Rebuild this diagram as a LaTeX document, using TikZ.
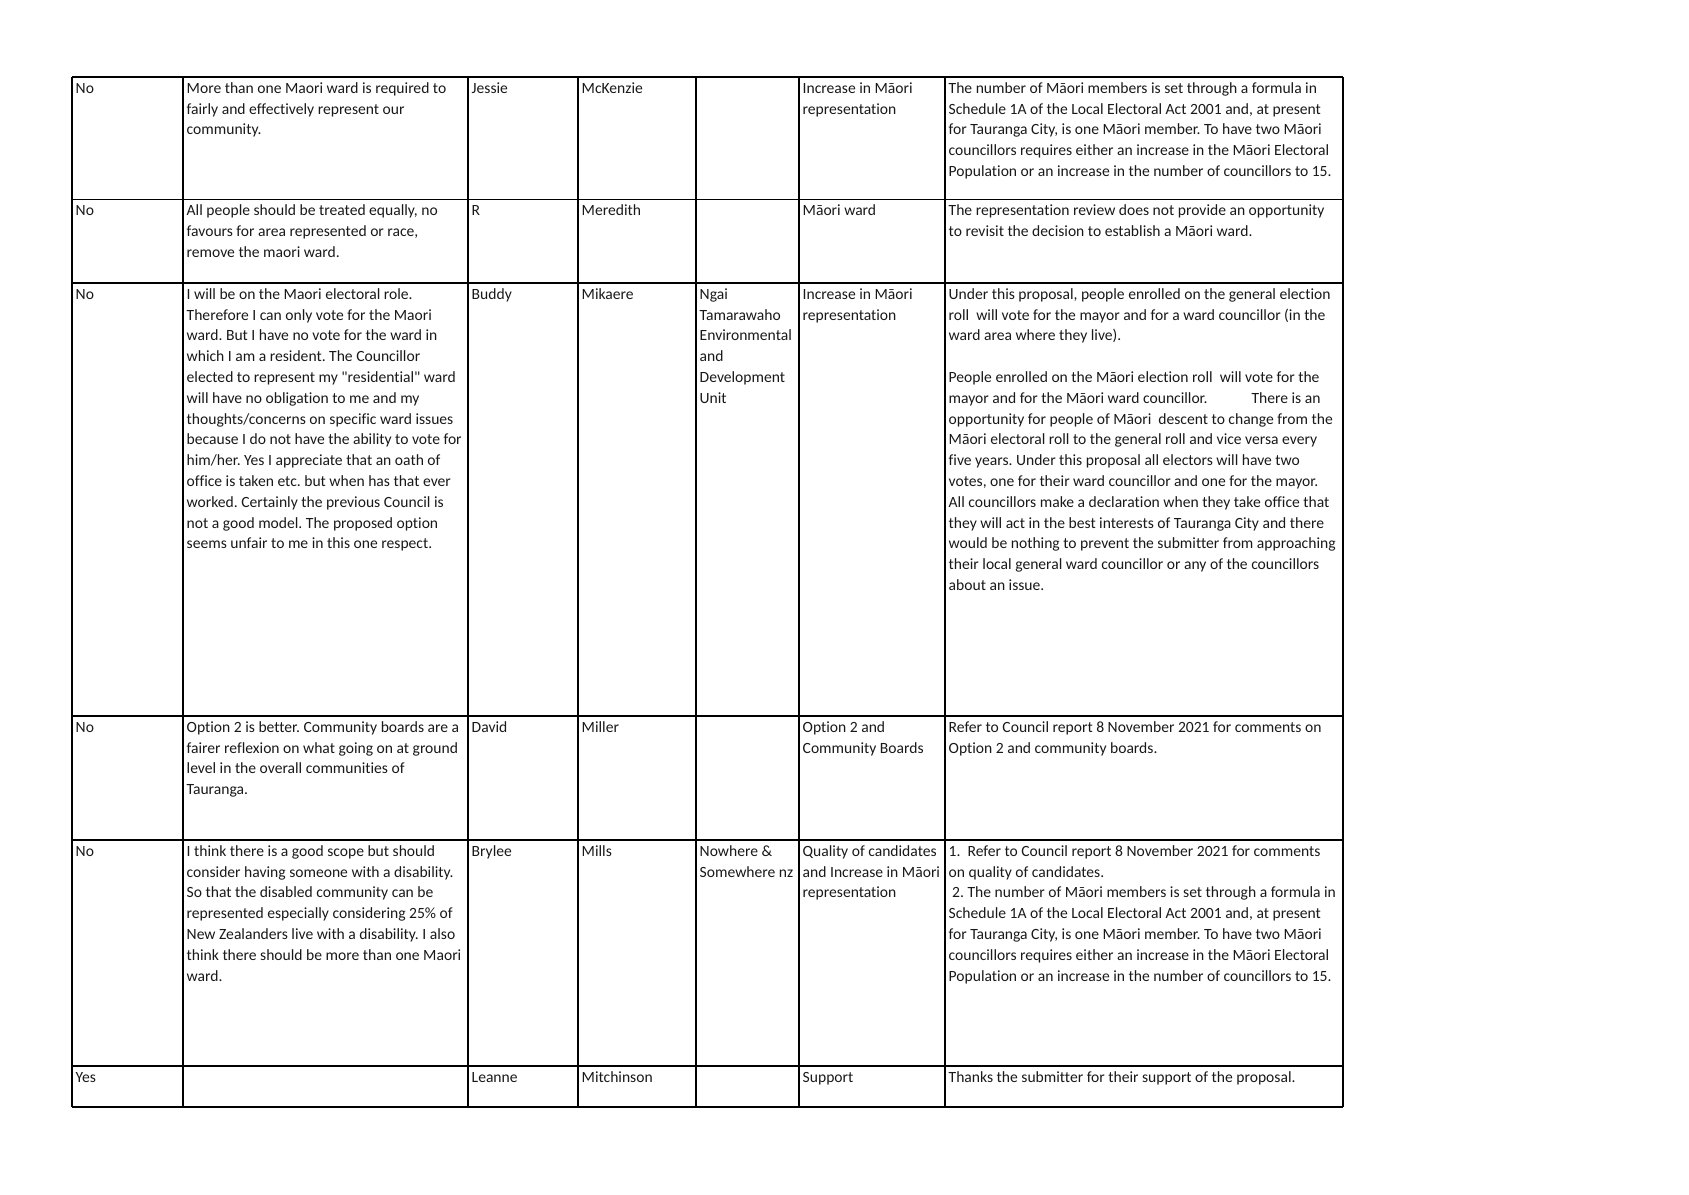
\documentclass[tikz,border=0pt]{standalone}
\usepackage{fontspec}
\newfontfamily\cf[Ligatures=NoCommon]{Carlito}
\newcommand\cs{\rule{0pt}{14pt}}
\frenchspacing
\begin{document}
\begin{tikzpicture}[x=1pt,y=-1pt,
  grid/.style={line width=1.6pt, draw=black},
  cell/.style={anchor=north west, inner sep=0pt, align=left,
    font=\cf\fontsize{15.6}{20.8}\selectfont\frenchspacing, text=black!90}]
\useasboundingbox[fill=white] (0,0) rectangle (1689,1194);
% grid
\foreach \xx in {72,183,468,578,696,799,945,1343}
  \draw[grid] (\xx,77) -- (\xx,1107);
\foreach \yy in {77,199.5,283,716,840,1066,1107}
  \draw[grid] (72,\yy) -- (1343,\yy);
% row 1
\node[cell] (r1c1) at (75.5,79) {\cs No};
\node[cell] (r1c2) at (186.5,79) {\cs More than one Maori ward is required to\\fairly and effectively represent our\\community.};
\node[cell] (r1c3) at (471.5,79) {\cs Jessie};
\node[cell] (r1c4) at (581.5,79) {\cs McKenzie};
\node[cell] (r1c6) at (802.5,79) {\cs Increase in Māori\\representation};
\node[cell] (r1c7) at (948.5,79) {\cs The number of Māori members is set through a formula in\\Schedule 1A of the Local Electoral Act 2001 and, at present\\for Tauranga City, is one Māori member. To have two Māori\\councillors requires either an increase in the Māori Electoral\\Population or an increase in the number of councillors to 15.};
% row 2
\node[cell] (r2c1) at (75.5,201.5) {\cs No};
\node[cell] (r2c2) at (186.5,201.5) {\cs All people should be treated equally, no\\favours for area represented or race,\\remove the maori ward.};
\node[cell] (r2c3) at (471.5,201.5) {\cs R};
\node[cell] (r2c4) at (581.5,201.5) {\cs Meredith};
\node[cell] (r2c6) at (802.5,201.5) {\cs Māori ward};
\node[cell] (r2c7) at (948.5,201.5) {\cs The representation review does not provide an opportunity\\to revisit the decision to establish a Māori ward.};
% row 3
\node[cell] (r3c1) at (75.5,285) {\cs No};
\node[cell] (r3c2) at (186.5,285) {\cs I will be on the Maori electoral role.\\Therefore I can only vote for the Maori\\ward. But I have no vote for the ward in\\which I am a resident. The Councillor\\elected to represent my "residential" ward\\will have no obligation to me and my\\thoughts/concerns on specific ward issues\\because I do not have the ability to vote for\\him/her. Yes I appreciate that an oath of\\office is taken etc. but when has that ever\\worked. Certainly the previous Council is\\not a good model. The proposed option\\seems unfair to me in this one respect.};
\node[cell] (r3c3) at (471.5,285) {\cs Buddy};
\node[cell] (r3c4) at (581.5,285) {\cs Mikaere};
\node[cell] (r3c5) at (699.5,285) {\cs Ngai\\Tamarawaho\\Environmental\\and\\Development\\Unit};
\node[cell] (r3c6) at (802.5,285) {\cs Increase in Māori\\representation};
\node[cell] (r3c7) at (948.5,285) {\cs Under this proposal, people enrolled on the general election\\roll\ \ will vote for the mayor and for a ward councillor (in the\\ward area where they live).\\[20.8pt]People enrolled on the Māori election roll\ \ will vote for the\\mayor and for the Māori ward councillor.\hspace{44pt}There is an\\opportunity for people of Māori\ \ descent to change from the\\Māori electoral roll to the general roll and vice versa every\\five years. Under this proposal all electors will have two\\votes, one for their ward councillor and one for the mayor.\\All councillors make a declaration when they take office that\\they will act in the best interests of Tauranga City and there\\would be nothing to prevent the submitter from approaching\\their local general ward councillor or any of the councillors\\about an issue.};
% row 4
\node[cell] (r4c1) at (75.5,718) {\cs No};
\node[cell] (r4c2) at (186.5,718) {\cs Option 2 is better. Community boards are a\\fairer reflexion on what going on at ground\\level in the overall communities of\\Tauranga.};
\node[cell] (r4c3) at (471.5,718) {\cs David};
\node[cell] (r4c4) at (581.5,718) {\cs Miller};
\node[cell] (r4c6) at (802.5,718) {\cs Option 2 and\\Community Boards};
\node[cell] (r4c7) at (948.5,718) {\cs Refer to Council report 8 November 2021 for comments on\\Option 2 and community boards.};
% row 5
\node[cell] (r5c1) at (75.5,842) {\cs No};
\node[cell] (r5c2) at (186.5,842) {\cs I think there is a good scope but should\\consider having someone with a disability.\\So that the disabled community can be\\represented especially considering 25\% of\\New Zealanders live with a disability. I also\\think there should be more than one Maori\\ward.};
\node[cell] (r5c3) at (471.5,842) {\cs Brylee};
\node[cell] (r5c4) at (581.5,842) {\cs Mills};
\node[cell] (r5c5) at (699.5,842) {\cs Nowhere \&\\Somewhere nz};
\node[cell] (r5c6) at (802.5,842) {\cs Quality of candidates\\and Increase in Māori\\representation};
\node[cell] (r5c7) at (948.5,842) {\cs 1.\ \ Refer to Council report 8 November 2021 for comments\\on quality of candidates.\\\hspace*{3.5pt}2. The number of Māori members is set through a formula in\\Schedule 1A of the Local Electoral Act 2001 and, at present\\for Tauranga City, is one Māori member. To have two Māori\\councillors requires either an increase in the Māori Electoral\\Population or an increase in the number of councillors to 15.};
% row 6
\node[cell] (r6c1) at (75.5,1068) {\cs Yes};
\node[cell] (r6c3) at (471.5,1068) {\cs Leanne};
\node[cell] (r6c4) at (581.5,1068) {\cs Mitchinson};
\node[cell] (r6c6) at (802.5,1068) {\cs Support};
\node[cell] (r6c7) at (948.5,1068) {\cs Thanks the submitter for their support of the proposal.};
\end{tikzpicture}
\end{document}
